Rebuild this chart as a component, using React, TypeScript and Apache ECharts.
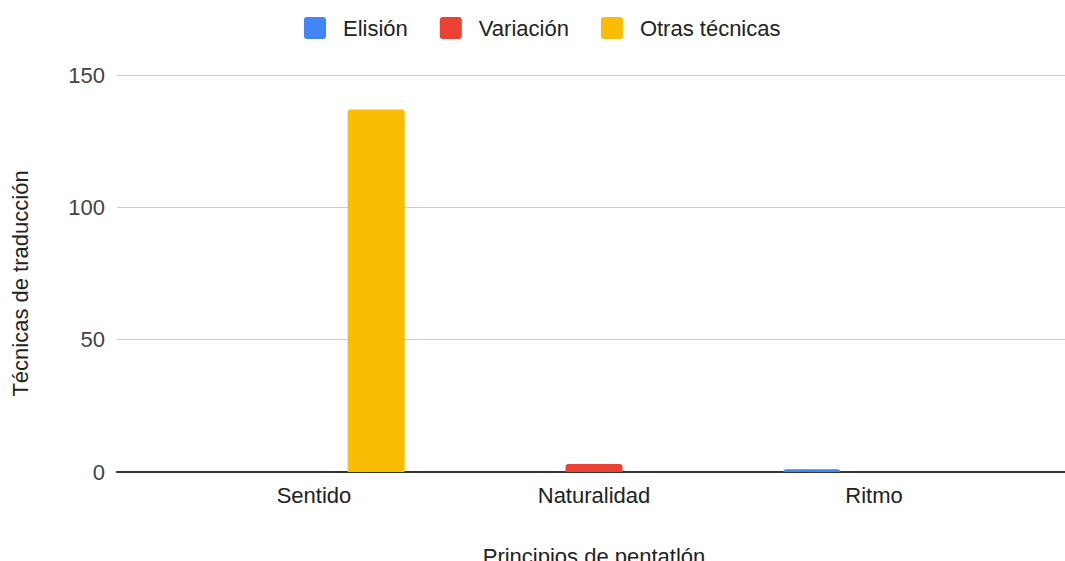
import React, { useEffect, useRef } from "react";
import * as echarts from "echarts";

const categories = ["Sentido", "Naturalidad", "Ritmo"];
const seriesNames = ["Elisión", "Variación", "Otras técnicas"];
const elision = [0, 0, 1];
const variacion = [0, 3, 0];
const otras = [137, 0, 0];
const colors = ["#4285F4", "#EA4335", "#FBBC04"];
const yTicks = { min: 0, max: 150, interval: 50 };

const FONT = "'Liberation Sans', Arial, sans-serif";
const FS = 22;
const ICON = "path://M3,0 L19,0 Q22,0 22,3 L22,19 Q22,22 19,22 L3,22 Q0,22 0,19 L0,3 Q0,0 3,0 Z";

export default function App() {
  const ref = useRef<HTMLDivElement>(null);
  useEffect(() => {
    if (!ref.current) return;
    const chart = echarts.init(ref.current, null, { renderer: "svg" });
    const values = [elision, variacion, otras];
    chart.setOption({
      animation: false,
      backgroundColor: "#ffffff",
      textStyle: { fontFamily: FONT },
      legend: {
        left: 299,
        top: 12,
        itemWidth: 22,
        itemHeight: 22,
        itemGap: 32,
        icon: ICON,
        textStyle: { fontSize: FS, color: "#222222", fontFamily: FONT, padding: [0, 0, 0, 12] },
        data: seriesNames,
      },
      grid: [
        { left: 117, right: 0, top: 75, bottom: 89, outerBoundsMode: "none", containLabel: false },
        { left: 174, right: 51, top: 75, bottom: 89, outerBoundsMode: "none", containLabel: false },
      ],
      xAxis: [
        {
          type: "category",
          gridIndex: 0,
          data: [""],
          axisLine: { show: true, lineStyle: { color: "#333333", width: 2 } },
          axisTick: { show: false },
          axisLabel: { show: false },
          splitLine: { show: false },
        },
        {
          type: "category",
          gridIndex: 1,
          data: categories,
          axisLine: { show: false },
          axisTick: { show: false },
          axisLabel: { fontSize: FS, color: "#222222", margin: 12, fontFamily: FONT },
          name: "Principios de pentatlón",
          nameLocation: "middle",
          nameGap: 73,
          nameTextStyle: { fontSize: FS, color: "#222222", fontFamily: FONT },
        },
      ],
      yAxis: [
        {
          type: "value",
          gridIndex: 0,
          min: yTicks.min,
          max: yTicks.max,
          interval: yTicks.interval,
          axisLine: { show: false },
          axisTick: { show: false },
          axisLabel: { fontSize: FS, color: "#444444", margin: 12, fontFamily: FONT },
          splitLine: { lineStyle: { color: "#cccccc", width: 1 } },
          name: "Técnicas de traducción",
          nameLocation: "middle",
          nameGap: 86,
          nameRotate: 90,
          nameTextStyle: { fontSize: FS, color: "#222222", fontFamily: FONT, padding: [0, 20, 0, 0] },
        },
        {
          type: "value",
          gridIndex: 1,
          min: yTicks.min,
          max: yTicks.max,
          interval: yTicks.interval,
          show: false,
        },
      ],
      series: seriesNames.map((name, i) => ({
        name,
        type: "bar",
        xAxisIndex: 1,
        yAxisIndex: 1,
        data: values[i],
        barWidth: 57,
        barGap: "9%",
        itemStyle: { color: colors[i], borderRadius: [3, 3, 0, 0] },
      })),
    });
    return () => chart.dispose();
  }, []);
  return (
    <div
      ref={ref}
      style={{ position: "fixed", left: 0, top: 0, width: 1065, height: 561, background: "#fff" }}
    />
  );
}
